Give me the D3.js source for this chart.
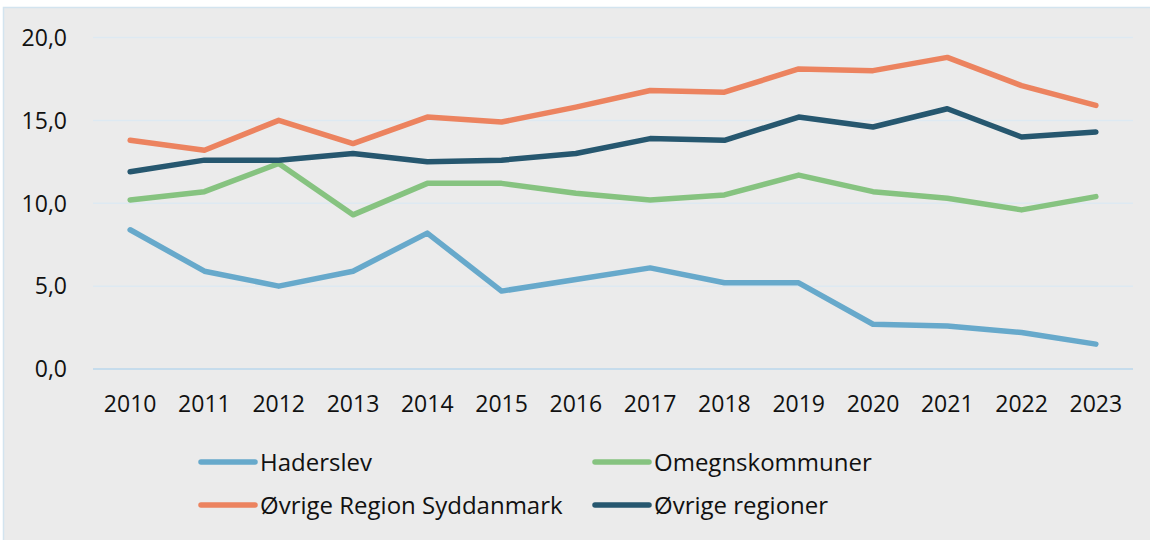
<!DOCTYPE html>
<html>
<head>
<meta charset="utf-8">
<script src="https://cdn.jsdelivr.net/npm/d3@7"></script>
<style>
  html, body { margin: 0; padding: 0; background: #fff; }
  svg { display: block; font-family: "Open Sans", sans-serif; }
</style>
</head>
<body>
<div id="chart"></div>
<script>
const years = ["2010","2011","2012","2013","2014","2015","2016","2017","2018","2019","2020","2021","2022","2023"];
const haderslev = [8.4, 5.9, 5.0, 5.9, 8.2, 4.7, 5.4, 6.1, 5.2, 5.2, 2.7, 2.6, 2.2, 1.5];
const omegn = [10.2, 10.7, 12.4, 9.3, 11.2, 11.2, 10.6, 10.2, 10.5, 11.7, 10.7, 10.3, 9.6, 10.4];
const regionSyd = [13.8, 13.2, 15.0, 13.6, 15.2, 14.9, 15.8, 16.8, 16.7, 18.1, 18.0, 18.8, 17.1, 15.9];
const oevrige = [11.9, 12.6, 12.6, 13.0, 12.5, 12.6, 13.0, 13.9, 13.8, 15.2, 14.6, 15.7, 14.0, 14.3];
const yTicks = [0, 5, 10, 15, 20];

const series = [
  { name: "Haderslev", values: haderslev, color: "#67a9cb" },
  { name: "Omegnskommuner", values: omegn, color: "#86c380" },
  { name: "Øvrige Region Syddanmark", values: regionSyd, color: "#ec835f" },
  { name: "Øvrige regioner", values: oevrige, color: "#26576f" }
];

const width = 1150, height = 540;
const svg = d3.select("#chart").append("svg")
  .attr("width", width)
  .attr("height", height);

// panel background
svg.append("rect")
  .attr("x", 3.5).attr("y", 7.5)
  .attr("width", width).attr("height", height)
  .attr("fill", "#ebebeb")
  .attr("stroke", "#d3e4ef")
  .attr("stroke-width", 1.5);

const x = d3.scaleBand().domain(years).range([93, 1133]);
const y = d3.scaleLinear().domain([0, 20]).range([369, 37.5]);
const fmt = v => d3.format(".1f")(v).replace(".", ",");

// gridlines
svg.selectAll(".grid")
  .data(yTicks)
  .join("line")
  .attr("class", "grid")
  .attr("x1", 93).attr("x2", 1133)
  .attr("y1", d => y(d)).attr("y2", d => y(d))
  .attr("stroke", d => d === 0 ? "#c6dcec" : "#dde9f2")
  .attr("stroke-width", d => d === 0 ? 2 : 1.5);

// y labels
svg.selectAll(".ylab")
  .data(yTicks)
  .join("text")
  .attr("class", "ylab")
  .attr("x", 67)
  .attr("y", d => y(d))
  .attr("dy", "0.36em")
  .attr("text-anchor", "end")
  .attr("font-size", 23)
  .attr("fill", "#111")
  .text(fmt);

// x labels
svg.selectAll(".xlab")
  .data(years)
  .join("text")
  .attr("class", "xlab")
  .attr("x", d => x(d) + x.bandwidth() / 2)
  .attr("y", 412)
  .attr("text-anchor", "middle")
  .attr("font-size", 23)
  .attr("fill", "#111")
  .text(d => d);

const line = d3.line()
  .x((d, i) => x(years[i]) + x.bandwidth() / 2)
  .y(d => y(d));

svg.selectAll(".series")
  .data(series)
  .join("path")
  .attr("class", "series")
  .attr("d", d => line(d.values))
  .attr("fill", "none")
  .attr("stroke", d => d.color)
  .attr("stroke-width", 5.5)
  .attr("stroke-linecap", "round")
  .attr("stroke-linejoin", "round");

// legend
const legendPos = [[201, 462], [595, 462], [201, 505], [595, 505]];
const lg = svg.selectAll(".legend")
  .data(series)
  .join("g")
  .attr("class", "legend")
  .attr("transform", (d, i) => `translate(${legendPos[i][0]},${legendPos[i][1]})`);

lg.append("line")
  .attr("x1", 0).attr("x2", 54)
  .attr("y1", 0).attr("y2", 0)
  .attr("stroke", d => d.color)
  .attr("stroke-width", 5.5)
  .attr("stroke-linecap", "round");

lg.append("text")
  .attr("x", 59)
  .attr("y", 0)
  .attr("dy", "0.36em")
  .attr("font-size", 24)
  .attr("fill", "#111")
  .text(d => d.name);
</script>
</body>
</html>
